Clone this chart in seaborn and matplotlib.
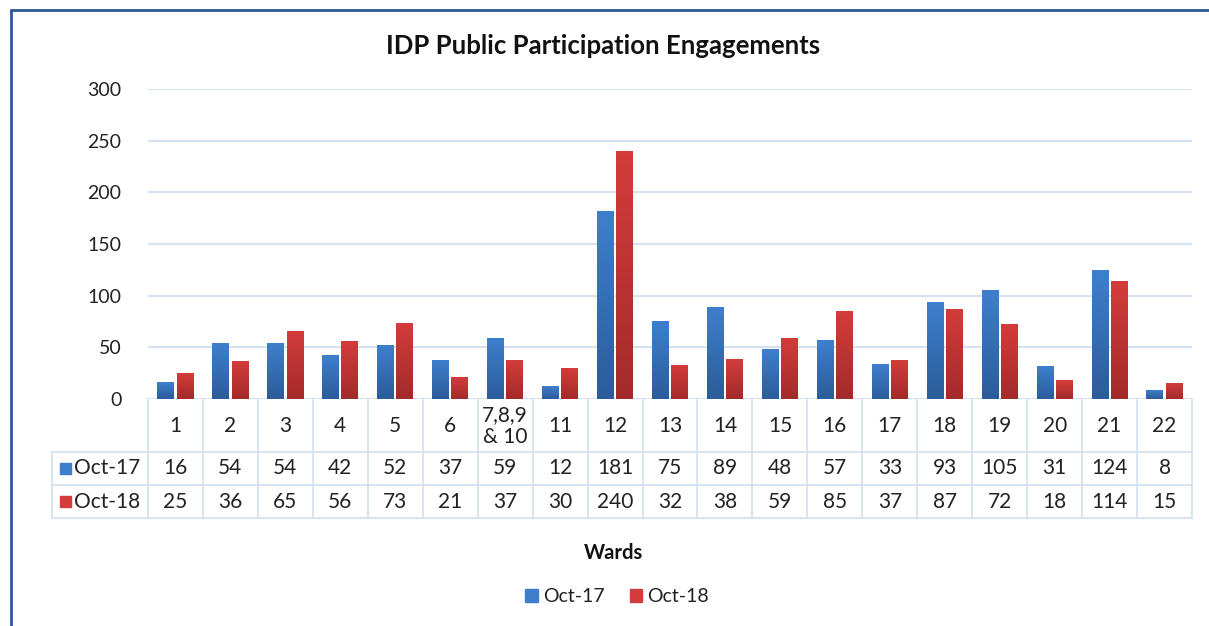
import numpy as np
import pandas as pd
import matplotlib
matplotlib.use("Agg")
import matplotlib.pyplot as plt
from matplotlib.lines import Line2D
from matplotlib.patches import Rectangle
from matplotlib.transforms import blended_transform_factory
import seaborn as sns

wards = ["1", "2", "3", "4", "5", "6", "7,8,9\n& 10", "11", "12", "13", "14",
         "15", "16", "17", "18", "19", "20", "21", "22"]
oct17 = [16, 54, 54, 42, 52, 37, 59, 12, 181, 75, 89, 48, 57, 33, 93, 105, 31, 124, 8]
oct18 = [25, 36, 65, 56, 73, 21, 37, 30, 240, 32, 38, 59, 85, 37, 87, 72, 18, 114, 15]
series_names = ["Oct-17", "Oct-18"]
y_ticks = [0, 50, 100, 150, 200, 250, 300]

sns.set_style("white")
plt.rcParams["font.family"] = ["Lato", "DejaVu Sans"]

W, H = 1209, 626
fig = plt.figure(figsize=(W / 100, H / 100), dpi=100)

# plot area in pixel units
left_px, right_px, top_px, zero_px = 148, 1192, 89, 399
ax = fig.add_axes([left_px / W, 1 - zero_px / H,
                   (right_px - left_px) / W, (zero_px - top_px) / H])

df = pd.DataFrame({
    "Ward": wards * 2,
    "Count": oct17 + oct18,
    "Month": [series_names[0]] * len(wards) + [series_names[1]] * len(wards),
})

top_cols = {"Oct-17": "#3E7FCD", "Oct-18": "#D33C3B"}
bot_cols = {"Oct-17": "#2C5C9A", "Oct-18": "#A32B2A"}

sns.barplot(data=df, x="Ward", y="Count", hue="Month", order=wards,
            hue_order=series_names, palette=top_cols, width=0.7, gap=0.12,
            legend=False, ax=ax, linewidth=0, errorbar=None)

ax.set_xlim(-0.5, len(wards) - 0.5)
ax.set_ylim(0, 300)

# vertical gradient fill for each bar
def grad_cmap(c_top, c_bot):
    return matplotlib.colors.LinearSegmentedColormap.from_list("g", [c_bot, c_top])

grad = np.linspace(0, 1, 64).reshape(-1, 1)
bars = [p for p in ax.patches if isinstance(p, Rectangle)]
for i, p in enumerate(bars):
    month = series_names[0] if i < len(wards) else series_names[1]
    x0, w, h = p.get_x(), p.get_width(), p.get_height()
    if h <= 0:
        continue
    p.set_facecolor("none")
    ax.imshow(grad, extent=[x0, x0 + w, 0, h], origin="lower", aspect="auto",
              cmap=grad_cmap(top_cols[month], bot_cols[month]), zorder=3)
ax.set_xlim(-0.5, len(wards) - 0.5)
ax.set_ylim(0, 300)
ax.set_aspect("auto")

grid_col = "#D6E2F2"
ax.set_yticks(y_ticks)
ax.yaxis.grid(True, color=grid_col, linewidth=1.6)
ax.set_axisbelow(True)
for s in ax.spines.values():
    s.set_visible(False)
ax.tick_params(axis="y", length=0, pad=19, labelsize=14, labelcolor="#222222")
ax.set_xticks([])
ax.set_xlabel("")
ax.set_ylabel("")

# data table beneath the axis
axis_h = zero_px - top_px
def ypx(py):
    return (zero_px - py) / axis_h

tr = blended_transform_factory(ax.transData, ax.transAxes)
tr_fig = blended_transform_factory(fig.transFigure, ax.transAxes)
row_lines = [452, 485, 518]
lw = 1.3
n = len(wards)
# vertical lines between columns
for k in range(n + 1):
    ax.add_line(Line2D([k - 0.5, k - 0.5], [ypx(zero_px), ypx(518)], transform=tr,
                       color=grid_col, lw=lw, clip_on=False))
# horizontal lines
for ry in row_lines:
    ax.add_line(Line2D([52 / W, right_px / W], [ypx(ry), ypx(ry)], transform=tr_fig,
                       color=grid_col, lw=lw, clip_on=False))
ax.add_line(Line2D([52 / W, 52 / W], [ypx(452), ypx(518)], transform=tr_fig,
                   color=grid_col, lw=lw, clip_on=False))

txt_kw = dict(ha="center", va="center", fontsize=15, color="#222222", clip_on=False)
for k, wlab in enumerate(wards):
    ax.text(k, ypx(426), wlab, transform=tr, linespacing=1.1, **txt_kw)
    ax.text(k, ypx(468.5), str(oct17[k]), transform=tr, **txt_kw)
    ax.text(k, ypx(501.5), str(oct18[k]), transform=tr, **txt_kw)

for name, yy in zip(series_names, [468.5, 501.5]):
    ax.add_patch(Rectangle((60 / W, ypx(yy) - 0.018), 11 / W, 0.036,
                           transform=tr_fig, color=top_cols[name], clip_on=False))
    ax.text(74 / W, ypx(yy), name, transform=tr_fig, ha="left", va="center",
            fontsize=15, color="#222222", clip_on=False)

fig.text(603 / W, 1 - 46 / H, "IDP Public Participation Engagements",
         ha="center", va="center", fontsize=18.5, fontweight="bold", color="#111111")
fig.text(613 / W, 1 - 553 / H, "Wards", ha="center", va="center",
         fontsize=14.5, fontweight="bold", color="#111111")

handles = [Rectangle((0, 0), 1, 1, color=top_cols[s]) for s in series_names]
fig.legend(handles, series_names, loc="center", bbox_to_anchor=(617 / W, 1 - 597 / H),
           ncol=2, frameon=False, fontsize=14, handlelength=0.65, handleheight=0.65,
           handletextpad=0.25, columnspacing=1.3, labelcolor="#222222")

# outer frame (left and top edges)
frame_col = "#2F569B"
fig.add_artist(Line2D([11 / W, 11 / W], [0, 1 - 10 / H], transform=fig.transFigure,
                      color=frame_col, lw=2))
fig.add_artist(Line2D([11 / W, 1], [1 - 10 / H, 1 - 10 / H], transform=fig.transFigure,
                      color=frame_col, lw=2))

fig.savefig("out.png", dpi=100)
